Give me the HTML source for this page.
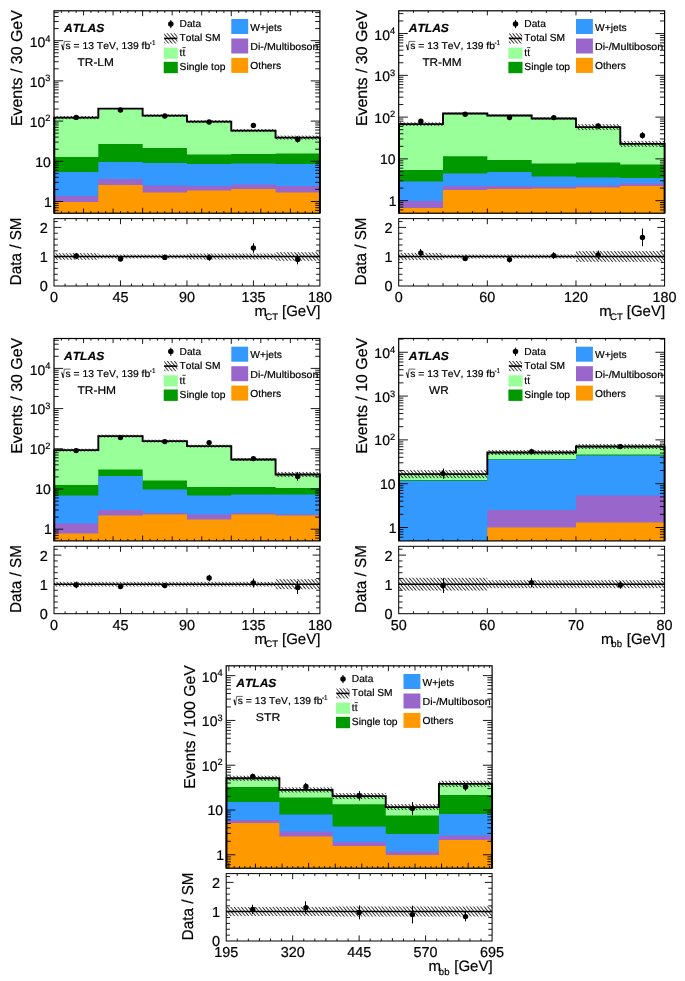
<!DOCTYPE html>
<html><head><meta charset="utf-8"><title>ATLAS control regions</title>
<style>html,body{margin:0;padding:0;background:#fff;overflow:hidden}svg{display:block;will-change:transform}text{font-kerning:none;text-rendering:geometricPrecision;stroke:#000;stroke-width:0.2px}</style></head>
<body>
<svg width="685" height="981" viewBox="0 0 685 981" font-family='"Liberation Sans", sans-serif'>
<defs><pattern id="h" width="2.7" height="2.7" patternUnits="userSpaceOnUse" patternTransform="rotate(50)"><line x1="0" y1="1.35" x2="2.7" y2="1.35" stroke="#000" stroke-width="0.75"/></pattern></defs>
<rect width="685" height="981" fill="#fff"/>
<g>
<path d="M54 117.6H98.32V108.6H142.63V115.6H186.95V121.6H231.27V130.6H275.58V137.6H319.9V213.2H54Z" fill="#99ff99"/>
<path d="M54 157H98.32V144H142.63V148H186.95V154.6H231.27V154H275.58V153.6H319.9V213.2H54Z" fill="#009900"/>
<path d="M54 172H98.32V162H142.63V163H186.95V164H231.27V163.6H275.58V164H319.9V213.2H54Z" fill="#3399ff"/>
<path d="M54 196H98.32V179H142.63V185.6H186.95V186H231.27V184.4H275.58V186H319.9V213.2H54Z" fill="#9966cc"/>
<path d="M54 202H98.32V185H142.63V192.6H186.95V190.6H231.27V189H275.58V192.6H319.9V213.2H54Z" fill="#ff9900"/>
<rect x="54" y="116" width="44.32" height="3.2" fill="url(#h)"/>
<rect x="98.32" y="108.1" width="44.32" height="1" fill="url(#h)"/>
<rect x="142.63" y="114.3" width="44.32" height="2.6" fill="url(#h)"/>
<rect x="186.95" y="120.1" width="44.32" height="3" fill="url(#h)"/>
<rect x="231.27" y="129.1" width="44.32" height="3" fill="url(#h)"/>
<rect x="275.58" y="135.6" width="44.32" height="4" fill="url(#h)"/>
<path d="M54.3 213.2V117.6H98.32V108.6H142.63V115.6H186.95V121.6H231.27V130.6H275.58V137.6H319.9V213.2" fill="none" stroke="#000" stroke-width="1.9" stroke-linejoin="miter"/>
<path d="M54 210.42L58.7 210.42M319.9 210.42L315.2 210.42M54 207.73L58.7 207.73M319.9 207.73L315.2 207.73M54 205.39L58.7 205.39M319.9 205.39L315.2 205.39M54 203.34L58.7 203.34M319.9 203.34L315.2 203.34M54 201.5L63.2 201.5M319.9 201.5L310.7 201.5M54 189.4L58.7 189.4M319.9 189.4L315.2 189.4M54 182.32L58.7 182.32M319.9 182.32L315.2 182.32M54 177.3L58.7 177.3M319.9 177.3L315.2 177.3M54 173.4L58.7 173.4M319.9 173.4L315.2 173.4M54 170.22L58.7 170.22M319.9 170.22L315.2 170.22M54 167.53L58.7 167.53M319.9 167.53L315.2 167.53M54 165.19L58.7 165.19M319.9 165.19L315.2 165.19M54 163.14L58.7 163.14M319.9 163.14L315.2 163.14M54 161.3L63.2 161.3M319.9 161.3L310.7 161.3M54 149.2L58.7 149.2M319.9 149.2L315.2 149.2M54 142.12L58.7 142.12M319.9 142.12L315.2 142.12M54 137.1L58.7 137.1M319.9 137.1L315.2 137.1M54 133.2L58.7 133.2M319.9 133.2L315.2 133.2M54 130.02L58.7 130.02M319.9 130.02L315.2 130.02M54 127.33L58.7 127.33M319.9 127.33L315.2 127.33M54 124.99L58.7 124.99M319.9 124.99L315.2 124.99M54 122.94L58.7 122.94M319.9 122.94L315.2 122.94M54 121.1L63.2 121.1M319.9 121.1L310.7 121.1M54 109L58.7 109M319.9 109L315.2 109M54 101.92L58.7 101.92M319.9 101.92L315.2 101.92M54 96.9L58.7 96.9M319.9 96.9L315.2 96.9M54 93L58.7 93M319.9 93L315.2 93M54 89.82L58.7 89.82M319.9 89.82L315.2 89.82M54 87.13L58.7 87.13M319.9 87.13L315.2 87.13M54 84.79L58.7 84.79M319.9 84.79L315.2 84.79M54 82.74L58.7 82.74M319.9 82.74L315.2 82.74M54 80.9L63.2 80.9M319.9 80.9L310.7 80.9M54 68.8L58.7 68.8M319.9 68.8L315.2 68.8M54 61.72L58.7 61.72M319.9 61.72L315.2 61.72M54 56.7L58.7 56.7M319.9 56.7L315.2 56.7M54 52.8L58.7 52.8M319.9 52.8L315.2 52.8M54 49.62L58.7 49.62M319.9 49.62L315.2 49.62M54 46.93L58.7 46.93M319.9 46.93L315.2 46.93M54 44.59L58.7 44.59M319.9 44.59L315.2 44.59M54 42.54L58.7 42.54M319.9 42.54L315.2 42.54M54 40.7L63.2 40.7M319.9 40.7L310.7 40.7M54 28.6L58.7 28.6M319.9 28.6L315.2 28.6M54 21.52L58.7 21.52M319.9 21.52L315.2 21.52M54 16.5L58.7 16.5M319.9 16.5L315.2 16.5M54 12.6L58.7 12.6M319.9 12.6L315.2 12.6M61.39 213.2L61.39 211.1M61.39 10.8L61.39 12.9M68.77 213.2L68.77 211.1M68.77 10.8L68.77 12.9M76.16 213.2L76.16 211.1M76.16 10.8L76.16 12.9M83.54 213.2L83.54 208.6M83.54 10.8L83.54 15.4M90.93 213.2L90.93 211.1M90.93 10.8L90.93 12.9M98.32 213.2L98.32 211.1M98.32 10.8L98.32 12.9M105.7 213.2L105.7 211.1M105.7 10.8L105.7 12.9M113.09 213.2L113.09 208.6M113.09 10.8L113.09 15.4M120.47 213.2L120.47 211.1M120.47 10.8L120.47 12.9M127.86 213.2L127.86 211.1M127.86 10.8L127.86 12.9M135.25 213.2L135.25 211.1M135.25 10.8L135.25 12.9M142.63 213.2L142.63 207.8M142.63 10.8L142.63 16.2M150.02 213.2L150.02 211.1M150.02 10.8L150.02 12.9M157.41 213.2L157.41 211.1M157.41 10.8L157.41 12.9M164.79 213.2L164.79 211.1M164.79 10.8L164.79 12.9M172.18 213.2L172.18 208.6M172.18 10.8L172.18 15.4M179.56 213.2L179.56 211.1M179.56 10.8L179.56 12.9M186.95 213.2L186.95 211.1M186.95 10.8L186.95 12.9M194.34 213.2L194.34 211.1M194.34 10.8L194.34 12.9M201.72 213.2L201.72 208.6M201.72 10.8L201.72 15.4M209.11 213.2L209.11 211.1M209.11 10.8L209.11 12.9M216.49 213.2L216.49 211.1M216.49 10.8L216.49 12.9M223.88 213.2L223.88 211.1M223.88 10.8L223.88 12.9M231.27 213.2L231.27 207.8M231.27 10.8L231.27 16.2M238.65 213.2L238.65 211.1M238.65 10.8L238.65 12.9M246.04 213.2L246.04 211.1M246.04 10.8L246.04 12.9M253.42 213.2L253.42 211.1M253.42 10.8L253.42 12.9M260.81 213.2L260.81 208.6M260.81 10.8L260.81 15.4M268.2 213.2L268.2 211.1M268.2 10.8L268.2 12.9M275.58 213.2L275.58 211.1M275.58 10.8L275.58 12.9M282.97 213.2L282.97 211.1M282.97 10.8L282.97 12.9M290.36 213.2L290.36 208.6M290.36 10.8L290.36 15.4M297.74 213.2L297.74 211.1M297.74 10.8L297.74 12.9M305.13 213.2L305.13 211.1M305.13 10.8L305.13 12.9M312.51 213.2L312.51 211.1M312.51 10.8L312.51 12.9M65.08 286L65.08 283.6M65.08 218.6L65.08 221M76.16 286L76.16 283.6M76.16 218.6L76.16 221M87.24 286L87.24 283.1M87.24 218.6L87.24 221.5M98.32 286L98.32 283.6M98.32 218.6L98.32 221M109.4 286L109.4 283.6M109.4 218.6L109.4 221M120.47 286L120.47 280.4M120.47 218.6L120.47 224.2M131.55 286L131.55 283.6M131.55 218.6L131.55 221M142.63 286L142.63 283.6M142.63 218.6L142.63 221M153.71 286L153.71 283.1M153.71 218.6L153.71 221.5M164.79 286L164.79 283.6M164.79 218.6L164.79 221M175.87 286L175.87 283.6M175.87 218.6L175.87 221M186.95 286L186.95 280.4M186.95 218.6L186.95 224.2M198.03 286L198.03 283.6M198.03 218.6L198.03 221M209.11 286L209.11 283.6M209.11 218.6L209.11 221M220.19 286L220.19 283.1M220.19 218.6L220.19 221.5M231.27 286L231.27 283.6M231.27 218.6L231.27 221M242.35 286L242.35 283.6M242.35 218.6L242.35 221M253.42 286L253.42 280.4M253.42 218.6L253.42 224.2M264.5 286L264.5 283.6M264.5 218.6L264.5 221M275.58 286L275.58 283.6M275.58 218.6L275.58 221M286.66 286L286.66 283.1M286.66 218.6L286.66 221.5M297.74 286L297.74 283.6M297.74 218.6L297.74 221M308.82 286L308.82 283.6M308.82 218.6L308.82 221M54 280.14L57.8 280.14M319.9 280.14L316.1 280.14M54 274.28L57.8 274.28M319.9 274.28L316.1 274.28M54 268.42L57.8 268.42M319.9 268.42L316.1 268.42M54 262.56L57.8 262.56M319.9 262.56L316.1 262.56M54 256.7L61.3 256.7M319.9 256.7L312.6 256.7M54 250.84L57.8 250.84M319.9 250.84L316.1 250.84M54 244.98L57.8 244.98M319.9 244.98L316.1 244.98M54 239.12L57.8 239.12M319.9 239.12L316.1 239.12M54 233.26L57.8 233.26M319.9 233.26L316.1 233.26M54 227.4L61.3 227.4M319.9 227.4L312.6 227.4M54 221.54L57.8 221.54M319.9 221.54L316.1 221.54" stroke="#000" stroke-width="0.9" fill="none"/>
<rect x="54" y="253.2" width="44.32" height="6.6" fill="url(#h)"/>
<rect x="98.32" y="254.5" width="44.32" height="4" fill="url(#h)"/>
<rect x="142.63" y="254.5" width="44.32" height="4" fill="url(#h)"/>
<rect x="186.95" y="253.5" width="44.32" height="6" fill="url(#h)"/>
<rect x="231.27" y="253.5" width="44.32" height="6" fill="url(#h)"/>
<rect x="275.58" y="252.2" width="44.32" height="8.6" fill="url(#h)"/>
<line x1="54" y1="256.5" x2="319.9" y2="256.5" stroke="#000" stroke-width="1.4"/>
<rect x="54" y="10.8" width="265.9" height="202.4" fill="none" stroke="#000" stroke-width="1.2"/>
<rect x="54" y="218.6" width="265.9" height="67.4" fill="none" stroke="#000" stroke-width="1.0"/>
<line x1="76.5" y1="115.67" x2="76.5" y2="119.13" stroke="#000" stroke-width="1"/>
<circle cx="76.16" cy="117.4" r="2.7"/>
<line x1="76.5" y1="253.03" x2="76.5" y2="258.97" stroke="#000" stroke-width="1"/>
<circle cx="76.16" cy="256" r="2.7"/>
<line x1="120.5" y1="108.6" x2="120.5" y2="111.4" stroke="#000" stroke-width="1"/>
<circle cx="120.47" cy="110" r="2.7"/>
<line x1="120.5" y1="256.84" x2="120.5" y2="261.16" stroke="#000" stroke-width="1"/>
<circle cx="120.47" cy="259" r="2.7"/>
<line x1="164.5" y1="114.34" x2="164.5" y2="117.66" stroke="#000" stroke-width="1"/>
<circle cx="164.79" cy="116" r="2.7"/>
<line x1="164.5" y1="254.68" x2="164.5" y2="260.12" stroke="#000" stroke-width="1"/>
<circle cx="164.79" cy="257.4" r="2.7"/>
<line x1="209.5" y1="120.03" x2="209.5" y2="123.97" stroke="#000" stroke-width="1"/>
<circle cx="209.11" cy="122" r="2.7"/>
<line x1="209.5" y1="254.39" x2="209.5" y2="260.81" stroke="#000" stroke-width="1"/>
<circle cx="209.11" cy="257.6" r="2.7"/>
<line x1="253.5" y1="123.23" x2="253.5" y2="127.57" stroke="#000" stroke-width="1"/>
<circle cx="253.42" cy="125.4" r="2.7"/>
<line x1="253.5" y1="243.27" x2="253.5" y2="252.73" stroke="#000" stroke-width="1"/>
<circle cx="253.42" cy="248" r="2.7"/>
<line x1="297.5" y1="136.16" x2="297.5" y2="142.64" stroke="#000" stroke-width="1"/>
<circle cx="297.74" cy="139.4" r="2.7"/>
<line x1="297.5" y1="254.46" x2="297.5" y2="264.34" stroke="#000" stroke-width="1"/>
<circle cx="297.74" cy="259.4" r="2.7"/>
<text x="51.9" y="206.7" font-size="14" text-anchor="end">1</text>
<text x="50.8" y="166.5" font-size="14" text-anchor="end">10</text>
<text x="50.4" y="126.5" font-size="14" text-anchor="end">10<tspan font-size="9.3" dy="-5.3">2</tspan></text>
<text x="50.4" y="86.7" font-size="14" text-anchor="end">10<tspan font-size="9.3" dy="-5.3">3</tspan></text>
<text x="50.4" y="46.8" font-size="14" text-anchor="end">10<tspan font-size="9.3" dy="-5.3">4</tspan></text>
<text x="47.9" y="291.4" font-size="14.5" text-anchor="end">0</text>
<text x="47.9" y="262.1" font-size="14.5" text-anchor="end">1</text>
<text x="47.9" y="232.8" font-size="14.5" text-anchor="end">2</text>
<text x="54" y="301.9" font-size="14.4" text-anchor="middle">0</text>
<text x="120.47" y="301.9" font-size="14.4" text-anchor="middle">45</text>
<text x="186.95" y="301.9" font-size="14.4" text-anchor="middle">90</text>
<text x="253.42" y="301.9" font-size="14.4" text-anchor="middle">135</text>
<text x="319.9" y="301.9" font-size="14.4" text-anchor="middle">180</text>
<text x="254.5" y="316" font-size="15">m</text>
<text x="265.3" y="319.7" font-size="9.6">CT</text>
<text x="320.4" y="316" font-size="15" text-anchor="end">[GeV]</text>
<text transform="translate(22.3 10.2) rotate(-90)" font-size="15.8" text-anchor="end" textLength="115.9" lengthAdjust="spacingAndGlyphs">Events / 30 GeV</text>
<text transform="translate(20.8 217.4) rotate(-90)" font-size="15.8" text-anchor="end" textLength="68" lengthAdjust="spacingAndGlyphs">Data / SM</text>
<text x="64" y="32.1" font-size="11.8" font-weight="bold" font-style="italic" textLength="40.2" lengthAdjust="spacingAndGlyphs">ATLAS</text>
<path d="M61.8 44.6L63.2 50" fill="none" stroke="#000" stroke-width="1.1"/>
<path d="M63.3 50.3L64.3 41.4H70.6" fill="none" stroke="#000" stroke-width="0.6"/>
<text x="65.6" y="49.4" font-size="9.9" textLength="84.6" lengthAdjust="spacingAndGlyphs">s = 13 TeV, 139 fb</text>
<text x="149.8" y="45" font-size="7" textLength="5.6" lengthAdjust="spacingAndGlyphs">-1</text>
<text x="77.6" y="66" font-size="11.2" textLength="36.2" lengthAdjust="spacingAndGlyphs">TR-LM</text>
<line x1="170.8" y1="20" x2="170.8" y2="28.2" stroke="#000" stroke-width="1"/>
<circle cx="170.8" cy="23.9" r="2.75"/>
<text x="179.6" y="26.9" font-size="10.2" textLength="21.5" lengthAdjust="spacingAndGlyphs">Data</text>
<rect x="164.2" y="33.3" width="13.2" height="10.2" fill="url(#h)"/>
<line x1="164.2" y1="38.4" x2="177.4" y2="38.4" stroke="#000" stroke-width="1.6"/>
<text x="179.6" y="41.3" font-size="10.2" textLength="40.8" lengthAdjust="spacingAndGlyphs">Total SM</text>
<rect x="163.7" y="47.6" width="14.1" height="11.2" fill="#99ff99"/>
<text x="179.6" y="56.3" font-size="10.2">tt</text>
<line x1="182.4" y1="47.6" x2="185.7" y2="47.6" stroke="#000" stroke-width="0.75"/>
<rect x="163.7" y="61.8" width="14.1" height="11.4" fill="#009900"/>
<text x="179.6" y="70.3" font-size="10.2" textLength="45.8" lengthAdjust="spacingAndGlyphs">Single top</text>
<rect x="231.3" y="19" width="16.9" height="15" fill="#3399ff"/>
<text x="250.3" y="30.6" font-size="10.2" textLength="31.6" lengthAdjust="spacingAndGlyphs">W+jets</text>
<rect x="231.3" y="38.5" width="16.9" height="15" fill="#9966cc"/>
<text x="250.3" y="50" font-size="10.2" textLength="68.2" lengthAdjust="spacingAndGlyphs">Di-/Multiboson</text>
<rect x="231.3" y="57.9" width="16.9" height="15" fill="#ff9900"/>
<text x="250.3" y="69.2" font-size="10.2" textLength="30.8" lengthAdjust="spacingAndGlyphs">Others</text>
</g>
<g>
<path d="M398.7 124.1H443.02V113.5H487.33V115.5H531.65V118.5H575.97V127.1H620.28V143.9H664.6V213.2H398.7Z" fill="#99ff99"/>
<path d="M398.7 170H443.02V156.2H487.33V160H531.65V163.4H575.97V162.6H620.28V164.4H664.6V213.2H398.7Z" fill="#009900"/>
<path d="M398.7 181.5H443.02V173.6H487.33V172H531.65V176.4H575.97V177.6H620.28V178H664.6V213.2H398.7Z" fill="#3399ff"/>
<path d="M398.7 201H443.02V186H487.33V186H531.65V186.4H575.97V185.4H620.28V183.6H664.6V213.2H398.7Z" fill="#9966cc"/>
<path d="M398.7 208H443.02V190H487.33V189H531.65V188.4H575.97V187.4H620.28V186H664.6V213.2H398.7Z" fill="#ff9900"/>
<rect x="398.7" y="122.3" width="44.32" height="3.6" fill="url(#h)"/>
<rect x="443.02" y="112.6" width="44.32" height="1.8" fill="url(#h)"/>
<rect x="487.33" y="114.6" width="44.32" height="1.8" fill="url(#h)"/>
<rect x="531.65" y="117.4" width="44.32" height="2.2" fill="url(#h)"/>
<rect x="575.97" y="124.1" width="44.32" height="6" fill="url(#h)"/>
<rect x="620.28" y="140.9" width="44.32" height="6" fill="url(#h)"/>
<path d="M399 213.2V124.1H443.02V113.5H487.33V115.5H531.65V118.5H575.97V127.1H620.28V143.9H664.6V213.2" fill="none" stroke="#000" stroke-width="1.9" stroke-linejoin="miter"/>
<path d="M398.7 209.94L403.4 209.94M664.6 209.94L659.9 209.94M398.7 207.14L403.4 207.14M664.6 207.14L659.9 207.14M398.7 204.72L403.4 204.72M664.6 204.72L659.9 204.72M398.7 202.58L403.4 202.58M664.6 202.58L659.9 202.58M398.7 200.67L407.9 200.67M664.6 200.67L655.4 200.67M398.7 188.1L403.4 188.1M664.6 188.1L659.9 188.1M398.7 180.74L403.4 180.74M664.6 180.74L659.9 180.74M398.7 175.52L403.4 175.52M664.6 175.52L659.9 175.52M398.7 171.47L403.4 171.47M664.6 171.47L659.9 171.47M398.7 168.16L403.4 168.16M664.6 168.16L659.9 168.16M398.7 165.36L403.4 165.36M664.6 165.36L659.9 165.36M398.7 162.94L403.4 162.94M664.6 162.94L659.9 162.94M398.7 160.8L403.4 160.8M664.6 160.8L659.9 160.8M398.7 158.89L407.9 158.89M664.6 158.89L655.4 158.89M398.7 146.32L403.4 146.32M664.6 146.32L659.9 146.32M398.7 138.96L403.4 138.96M664.6 138.96L659.9 138.96M398.7 133.74L403.4 133.74M664.6 133.74L659.9 133.74M398.7 129.69L403.4 129.69M664.6 129.69L659.9 129.69M398.7 126.38L403.4 126.38M664.6 126.38L659.9 126.38M398.7 123.58L403.4 123.58M664.6 123.58L659.9 123.58M398.7 121.16L403.4 121.16M664.6 121.16L659.9 121.16M398.7 119.02L403.4 119.02M664.6 119.02L659.9 119.02M398.7 117.11L407.9 117.11M664.6 117.11L655.4 117.11M398.7 104.54L403.4 104.54M664.6 104.54L659.9 104.54M398.7 97.18L403.4 97.18M664.6 97.18L659.9 97.18M398.7 91.96L403.4 91.96M664.6 91.96L659.9 91.96M398.7 87.91L403.4 87.91M664.6 87.91L659.9 87.91M398.7 84.6L403.4 84.6M664.6 84.6L659.9 84.6M398.7 81.8L403.4 81.8M664.6 81.8L659.9 81.8M398.7 79.38L403.4 79.38M664.6 79.38L659.9 79.38M398.7 77.24L403.4 77.24M664.6 77.24L659.9 77.24M398.7 75.33L407.9 75.33M664.6 75.33L655.4 75.33M398.7 62.76L403.4 62.76M664.6 62.76L659.9 62.76M398.7 55.4L403.4 55.4M664.6 55.4L659.9 55.4M398.7 50.18L403.4 50.18M664.6 50.18L659.9 50.18M398.7 46.13L403.4 46.13M664.6 46.13L659.9 46.13M398.7 42.82L403.4 42.82M664.6 42.82L659.9 42.82M398.7 40.02L403.4 40.02M664.6 40.02L659.9 40.02M398.7 37.6L403.4 37.6M664.6 37.6L659.9 37.6M398.7 35.46L403.4 35.46M664.6 35.46L659.9 35.46M398.7 33.55L407.9 33.55M664.6 33.55L655.4 33.55M398.7 20.98L403.4 20.98M664.6 20.98L659.9 20.98M398.7 13.62L403.4 13.62M664.6 13.62L659.9 13.62M413.47 213.2L413.47 211.1M413.47 10.8L413.47 12.9M428.24 213.2L428.24 211.1M428.24 10.8L428.24 12.9M443.02 213.2L443.02 211.1M443.02 10.8L443.02 12.9M457.79 213.2L457.79 211.1M457.79 10.8L457.79 12.9M472.56 213.2L472.56 211.1M472.56 10.8L472.56 12.9M487.33 213.2L487.33 208.6M487.33 10.8L487.33 15.4M502.11 213.2L502.11 211.1M502.11 10.8L502.11 12.9M516.88 213.2L516.88 211.1M516.88 10.8L516.88 12.9M531.65 213.2L531.65 211.1M531.65 10.8L531.65 12.9M546.42 213.2L546.42 211.1M546.42 10.8L546.42 12.9M561.19 213.2L561.19 211.1M561.19 10.8L561.19 12.9M575.97 213.2L575.97 208.6M575.97 10.8L575.97 15.4M590.74 213.2L590.74 211.1M590.74 10.8L590.74 12.9M605.51 213.2L605.51 211.1M605.51 10.8L605.51 12.9M620.28 213.2L620.28 211.1M620.28 10.8L620.28 12.9M635.06 213.2L635.06 211.1M635.06 10.8L635.06 12.9M649.83 213.2L649.83 211.1M649.83 10.8L649.83 12.9M413.47 286L413.47 283.6M413.47 218.6L413.47 221M428.24 286L428.24 283.6M428.24 218.6L428.24 221M443.02 286L443.02 283.1M443.02 218.6L443.02 221.5M457.79 286L457.79 283.6M457.79 218.6L457.79 221M472.56 286L472.56 283.6M472.56 218.6L472.56 221M487.33 286L487.33 280.4M487.33 218.6L487.33 224.2M502.11 286L502.11 283.6M502.11 218.6L502.11 221M516.88 286L516.88 283.6M516.88 218.6L516.88 221M531.65 286L531.65 283.1M531.65 218.6L531.65 221.5M546.42 286L546.42 283.6M546.42 218.6L546.42 221M561.19 286L561.19 283.6M561.19 218.6L561.19 221M575.97 286L575.97 280.4M575.97 218.6L575.97 224.2M590.74 286L590.74 283.6M590.74 218.6L590.74 221M605.51 286L605.51 283.6M605.51 218.6L605.51 221M620.28 286L620.28 283.1M620.28 218.6L620.28 221.5M635.06 286L635.06 283.6M635.06 218.6L635.06 221M649.83 286L649.83 283.6M649.83 218.6L649.83 221M398.7 280.14L402.5 280.14M664.6 280.14L660.8 280.14M398.7 274.28L402.5 274.28M664.6 274.28L660.8 274.28M398.7 268.42L402.5 268.42M664.6 268.42L660.8 268.42M398.7 262.56L402.5 262.56M664.6 262.56L660.8 262.56M398.7 256.7L406 256.7M664.6 256.7L657.3 256.7M398.7 250.84L402.5 250.84M664.6 250.84L660.8 250.84M398.7 244.98L402.5 244.98M664.6 244.98L660.8 244.98M398.7 239.12L402.5 239.12M664.6 239.12L660.8 239.12M398.7 233.26L402.5 233.26M664.6 233.26L660.8 233.26M398.7 227.4L406 227.4M664.6 227.4L657.3 227.4M398.7 221.54L402.5 221.54M664.6 221.54L660.8 221.54" stroke="#000" stroke-width="0.9" fill="none"/>
<rect x="398.7" y="252.9" width="44.32" height="7.2" fill="url(#h)"/>
<rect x="443.02" y="254.5" width="44.32" height="4" fill="url(#h)"/>
<rect x="487.33" y="254.5" width="44.32" height="4" fill="url(#h)"/>
<rect x="531.65" y="254.5" width="44.32" height="4" fill="url(#h)"/>
<rect x="575.97" y="251.1" width="44.32" height="10.8" fill="url(#h)"/>
<rect x="620.28" y="251.1" width="44.32" height="10.8" fill="url(#h)"/>
<line x1="398.7" y1="256.5" x2="664.6" y2="256.5" stroke="#000" stroke-width="1.4"/>
<rect x="398.7" y="10.8" width="265.9" height="202.4" fill="none" stroke="#000" stroke-width="1.2"/>
<rect x="398.7" y="218.6" width="265.9" height="67.4" fill="none" stroke="#000" stroke-width="1.0"/>
<line x1="420.5" y1="118.97" x2="420.5" y2="123.43" stroke="#000" stroke-width="1"/>
<circle cx="420.86" cy="121.2" r="2.7"/>
<line x1="420.5" y1="248.94" x2="420.5" y2="257.06" stroke="#000" stroke-width="1"/>
<circle cx="420.86" cy="253" r="2.7"/>
<line x1="465.5" y1="112.45" x2="465.5" y2="116.15" stroke="#000" stroke-width="1"/>
<circle cx="465.17" cy="114.3" r="2.7"/>
<line x1="465.5" y1="255.59" x2="465.5" y2="261.21" stroke="#000" stroke-width="1"/>
<circle cx="465.17" cy="258.4" r="2.7"/>
<line x1="509.5" y1="115.58" x2="509.5" y2="119.62" stroke="#000" stroke-width="1"/>
<circle cx="509.49" cy="117.6" r="2.7"/>
<line x1="509.5" y1="256.66" x2="509.5" y2="262.54" stroke="#000" stroke-width="1"/>
<circle cx="509.49" cy="259.6" r="2.7"/>
<line x1="553.5" y1="115.58" x2="553.5" y2="119.62" stroke="#000" stroke-width="1"/>
<circle cx="553.81" cy="117.6" r="2.7"/>
<line x1="553.5" y1="252.21" x2="553.5" y2="258.99" stroke="#000" stroke-width="1"/>
<circle cx="553.81" cy="255.6" r="2.7"/>
<line x1="598.5" y1="123.45" x2="598.5" y2="128.55" stroke="#000" stroke-width="1"/>
<circle cx="598.12" cy="126" r="2.7"/>
<line x1="598.5" y1="250.64" x2="598.5" y2="259.36" stroke="#000" stroke-width="1"/>
<circle cx="598.12" cy="255" r="2.7"/>
<line x1="642.5" y1="132.1" x2="642.5" y2="138.7" stroke="#000" stroke-width="1"/>
<circle cx="642.44" cy="135.4" r="2.7"/>
<line x1="642.5" y1="228.55" x2="642.5" y2="246.25" stroke="#000" stroke-width="1"/>
<circle cx="642.44" cy="237.4" r="2.7"/>
<text x="396.6" y="205.87" font-size="14" text-anchor="end">1</text>
<text x="395.5" y="164.09" font-size="14" text-anchor="end">10</text>
<text x="395.1" y="122.51" font-size="14" text-anchor="end">10<tspan font-size="9.3" dy="-5.3">2</tspan></text>
<text x="395.1" y="81.13" font-size="14" text-anchor="end">10<tspan font-size="9.3" dy="-5.3">3</tspan></text>
<text x="395.1" y="39.65" font-size="14" text-anchor="end">10<tspan font-size="9.3" dy="-5.3">4</tspan></text>
<text x="392.6" y="291.4" font-size="14.5" text-anchor="end">0</text>
<text x="392.6" y="262.1" font-size="14.5" text-anchor="end">1</text>
<text x="392.6" y="232.8" font-size="14.5" text-anchor="end">2</text>
<text x="398.7" y="301.9" font-size="14.4" text-anchor="middle">0</text>
<text x="487.33" y="301.9" font-size="14.4" text-anchor="middle">60</text>
<text x="575.97" y="301.9" font-size="14.4" text-anchor="middle">120</text>
<text x="664.6" y="301.9" font-size="14.4" text-anchor="middle">180</text>
<text x="599.2" y="316" font-size="15">m</text>
<text x="610" y="319.7" font-size="9.6">CT</text>
<text x="665.1" y="316" font-size="15" text-anchor="end">[GeV]</text>
<text transform="translate(367 10.2) rotate(-90)" font-size="15.8" text-anchor="end" textLength="115.9" lengthAdjust="spacingAndGlyphs">Events / 30 GeV</text>
<text transform="translate(365.5 217.4) rotate(-90)" font-size="15.8" text-anchor="end" textLength="68" lengthAdjust="spacingAndGlyphs">Data / SM</text>
<text x="408.7" y="32.1" font-size="11.8" font-weight="bold" font-style="italic" textLength="40.2" lengthAdjust="spacingAndGlyphs">ATLAS</text>
<path d="M406.5 44.6L407.9 50" fill="none" stroke="#000" stroke-width="1.1"/>
<path d="M408 50.3L409 41.4H415.3" fill="none" stroke="#000" stroke-width="0.6"/>
<text x="410.3" y="49.4" font-size="9.9" textLength="84.6" lengthAdjust="spacingAndGlyphs">s = 13 TeV, 139 fb</text>
<text x="494.5" y="45" font-size="7" textLength="5.6" lengthAdjust="spacingAndGlyphs">-1</text>
<text x="422.4" y="66" font-size="11.2" textLength="39.3" lengthAdjust="spacingAndGlyphs">TR-MM</text>
<line x1="515.5" y1="20" x2="515.5" y2="28.2" stroke="#000" stroke-width="1"/>
<circle cx="515.5" cy="23.9" r="2.75"/>
<text x="524.3" y="26.9" font-size="10.2" textLength="21.5" lengthAdjust="spacingAndGlyphs">Data</text>
<rect x="508.9" y="33.3" width="13.2" height="10.2" fill="url(#h)"/>
<line x1="508.9" y1="38.4" x2="522.1" y2="38.4" stroke="#000" stroke-width="1.6"/>
<text x="524.3" y="41.3" font-size="10.2" textLength="40.8" lengthAdjust="spacingAndGlyphs">Total SM</text>
<rect x="508.4" y="47.6" width="14.1" height="11.2" fill="#99ff99"/>
<text x="524.3" y="56.3" font-size="10.2">tt</text>
<line x1="527.1" y1="47.6" x2="530.4" y2="47.6" stroke="#000" stroke-width="0.75"/>
<rect x="508.4" y="61.8" width="14.1" height="11.4" fill="#009900"/>
<text x="524.3" y="70.3" font-size="10.2" textLength="45.8" lengthAdjust="spacingAndGlyphs">Single top</text>
<rect x="576" y="19" width="16.9" height="15" fill="#3399ff"/>
<text x="595" y="30.6" font-size="10.2" textLength="31.6" lengthAdjust="spacingAndGlyphs">W+jets</text>
<rect x="576" y="38.5" width="16.9" height="15" fill="#9966cc"/>
<text x="595" y="50" font-size="10.2" textLength="68.2" lengthAdjust="spacingAndGlyphs">Di-/Multiboson</text>
<rect x="576" y="57.9" width="16.9" height="15" fill="#ff9900"/>
<text x="595" y="69.2" font-size="10.2" textLength="30.8" lengthAdjust="spacingAndGlyphs">Others</text>
</g>
<g>
<path d="M54 450.1H98.32V436.1H142.63V441.1H186.95V446.1H231.27V459.5H275.58V474.5H319.9V540.9H54Z" fill="#99ff99"/>
<path d="M54 485H98.32V469.6H142.63V480.4H186.95V487H231.27V487H275.58V488H319.9V540.9H54Z" fill="#009900"/>
<path d="M54 495.4H98.32V476H142.63V489.6H186.95V495.4H231.27V494.4H275.58V494.4H319.9V540.9H54Z" fill="#3399ff"/>
<path d="M54 523.6H98.32V510H142.63V513H186.95V514.4H231.27V513H275.58V514.4H319.9V540.9H54Z" fill="#9966cc"/>
<path d="M54 533.6H98.32V515.6H142.63V514.6H186.95V519.6H231.27V514.4H275.58V515.6H319.9V540.9H54Z" fill="#ff9900"/>
<rect x="54" y="448.7" width="44.32" height="2.8" fill="url(#h)"/>
<rect x="98.32" y="434.7" width="44.32" height="2.8" fill="url(#h)"/>
<rect x="142.63" y="439.7" width="44.32" height="2.8" fill="url(#h)"/>
<rect x="186.95" y="444.7" width="44.32" height="2.8" fill="url(#h)"/>
<rect x="231.27" y="458.1" width="44.32" height="2.8" fill="url(#h)"/>
<rect x="275.58" y="471.9" width="44.32" height="5.2" fill="url(#h)"/>
<path d="M54.3 540.9V450.1H98.32V436.1H142.63V441.1H186.95V446.1H231.27V459.5H275.58V474.5H319.9V540.9" fill="none" stroke="#000" stroke-width="1.9" stroke-linejoin="miter"/>
<path d="M54 538.12L58.7 538.12M319.9 538.12L315.2 538.12M54 535.43L58.7 535.43M319.9 535.43L315.2 535.43M54 533.09L58.7 533.09M319.9 533.09L315.2 533.09M54 531.04L58.7 531.04M319.9 531.04L315.2 531.04M54 529.2L63.2 529.2M319.9 529.2L310.7 529.2M54 517.1L58.7 517.1M319.9 517.1L315.2 517.1M54 510.02L58.7 510.02M319.9 510.02L315.2 510.02M54 505L58.7 505M319.9 505L315.2 505M54 501.1L58.7 501.1M319.9 501.1L315.2 501.1M54 497.92L58.7 497.92M319.9 497.92L315.2 497.92M54 495.23L58.7 495.23M319.9 495.23L315.2 495.23M54 492.89L58.7 492.89M319.9 492.89L315.2 492.89M54 490.84L58.7 490.84M319.9 490.84L315.2 490.84M54 489L63.2 489M319.9 489L310.7 489M54 476.9L58.7 476.9M319.9 476.9L315.2 476.9M54 469.82L58.7 469.82M319.9 469.82L315.2 469.82M54 464.8L58.7 464.8M319.9 464.8L315.2 464.8M54 460.9L58.7 460.9M319.9 460.9L315.2 460.9M54 457.72L58.7 457.72M319.9 457.72L315.2 457.72M54 455.03L58.7 455.03M319.9 455.03L315.2 455.03M54 452.69L58.7 452.69M319.9 452.69L315.2 452.69M54 450.64L58.7 450.64M319.9 450.64L315.2 450.64M54 448.8L63.2 448.8M319.9 448.8L310.7 448.8M54 436.7L58.7 436.7M319.9 436.7L315.2 436.7M54 429.62L58.7 429.62M319.9 429.62L315.2 429.62M54 424.6L58.7 424.6M319.9 424.6L315.2 424.6M54 420.7L58.7 420.7M319.9 420.7L315.2 420.7M54 417.52L58.7 417.52M319.9 417.52L315.2 417.52M54 414.83L58.7 414.83M319.9 414.83L315.2 414.83M54 412.49L58.7 412.49M319.9 412.49L315.2 412.49M54 410.44L58.7 410.44M319.9 410.44L315.2 410.44M54 408.6L63.2 408.6M319.9 408.6L310.7 408.6M54 396.5L58.7 396.5M319.9 396.5L315.2 396.5M54 389.42L58.7 389.42M319.9 389.42L315.2 389.42M54 384.4L58.7 384.4M319.9 384.4L315.2 384.4M54 380.5L58.7 380.5M319.9 380.5L315.2 380.5M54 377.32L58.7 377.32M319.9 377.32L315.2 377.32M54 374.63L58.7 374.63M319.9 374.63L315.2 374.63M54 372.29L58.7 372.29M319.9 372.29L315.2 372.29M54 370.24L58.7 370.24M319.9 370.24L315.2 370.24M54 368.4L63.2 368.4M319.9 368.4L310.7 368.4M54 356.3L58.7 356.3M319.9 356.3L315.2 356.3M54 349.22L58.7 349.22M319.9 349.22L315.2 349.22M54 344.2L58.7 344.2M319.9 344.2L315.2 344.2M54 340.3L58.7 340.3M319.9 340.3L315.2 340.3M61.39 540.9L61.39 538.8M61.39 338.5L61.39 340.6M68.77 540.9L68.77 538.8M68.77 338.5L68.77 340.6M76.16 540.9L76.16 538.8M76.16 338.5L76.16 340.6M83.54 540.9L83.54 536.3M83.54 338.5L83.54 343.1M90.93 540.9L90.93 538.8M90.93 338.5L90.93 340.6M98.32 540.9L98.32 538.8M98.32 338.5L98.32 340.6M105.7 540.9L105.7 538.8M105.7 338.5L105.7 340.6M113.09 540.9L113.09 536.3M113.09 338.5L113.09 343.1M120.47 540.9L120.47 538.8M120.47 338.5L120.47 340.6M127.86 540.9L127.86 538.8M127.86 338.5L127.86 340.6M135.25 540.9L135.25 538.8M135.25 338.5L135.25 340.6M142.63 540.9L142.63 535.5M142.63 338.5L142.63 343.9M150.02 540.9L150.02 538.8M150.02 338.5L150.02 340.6M157.41 540.9L157.41 538.8M157.41 338.5L157.41 340.6M164.79 540.9L164.79 538.8M164.79 338.5L164.79 340.6M172.18 540.9L172.18 536.3M172.18 338.5L172.18 343.1M179.56 540.9L179.56 538.8M179.56 338.5L179.56 340.6M186.95 540.9L186.95 538.8M186.95 338.5L186.95 340.6M194.34 540.9L194.34 538.8M194.34 338.5L194.34 340.6M201.72 540.9L201.72 536.3M201.72 338.5L201.72 343.1M209.11 540.9L209.11 538.8M209.11 338.5L209.11 340.6M216.49 540.9L216.49 538.8M216.49 338.5L216.49 340.6M223.88 540.9L223.88 538.8M223.88 338.5L223.88 340.6M231.27 540.9L231.27 535.5M231.27 338.5L231.27 343.9M238.65 540.9L238.65 538.8M238.65 338.5L238.65 340.6M246.04 540.9L246.04 538.8M246.04 338.5L246.04 340.6M253.42 540.9L253.42 538.8M253.42 338.5L253.42 340.6M260.81 540.9L260.81 536.3M260.81 338.5L260.81 343.1M268.2 540.9L268.2 538.8M268.2 338.5L268.2 340.6M275.58 540.9L275.58 538.8M275.58 338.5L275.58 340.6M282.97 540.9L282.97 538.8M282.97 338.5L282.97 340.6M290.36 540.9L290.36 536.3M290.36 338.5L290.36 343.1M297.74 540.9L297.74 538.8M297.74 338.5L297.74 340.6M305.13 540.9L305.13 538.8M305.13 338.5L305.13 340.6M312.51 540.9L312.51 538.8M312.51 338.5L312.51 340.6M65.08 613.7L65.08 611.3M65.08 546.3L65.08 548.7M76.16 613.7L76.16 611.3M76.16 546.3L76.16 548.7M87.24 613.7L87.24 610.8M87.24 546.3L87.24 549.2M98.32 613.7L98.32 611.3M98.32 546.3L98.32 548.7M109.4 613.7L109.4 611.3M109.4 546.3L109.4 548.7M120.47 613.7L120.47 608.1M120.47 546.3L120.47 551.9M131.55 613.7L131.55 611.3M131.55 546.3L131.55 548.7M142.63 613.7L142.63 611.3M142.63 546.3L142.63 548.7M153.71 613.7L153.71 610.8M153.71 546.3L153.71 549.2M164.79 613.7L164.79 611.3M164.79 546.3L164.79 548.7M175.87 613.7L175.87 611.3M175.87 546.3L175.87 548.7M186.95 613.7L186.95 608.1M186.95 546.3L186.95 551.9M198.03 613.7L198.03 611.3M198.03 546.3L198.03 548.7M209.11 613.7L209.11 611.3M209.11 546.3L209.11 548.7M220.19 613.7L220.19 610.8M220.19 546.3L220.19 549.2M231.27 613.7L231.27 611.3M231.27 546.3L231.27 548.7M242.35 613.7L242.35 611.3M242.35 546.3L242.35 548.7M253.42 613.7L253.42 608.1M253.42 546.3L253.42 551.9M264.5 613.7L264.5 611.3M264.5 546.3L264.5 548.7M275.58 613.7L275.58 611.3M275.58 546.3L275.58 548.7M286.66 613.7L286.66 610.8M286.66 546.3L286.66 549.2M297.74 613.7L297.74 611.3M297.74 546.3L297.74 548.7M308.82 613.7L308.82 611.3M308.82 546.3L308.82 548.7M54 607.84L57.8 607.84M319.9 607.84L316.1 607.84M54 601.98L57.8 601.98M319.9 601.98L316.1 601.98M54 596.12L57.8 596.12M319.9 596.12L316.1 596.12M54 590.26L57.8 590.26M319.9 590.26L316.1 590.26M54 584.4L61.3 584.4M319.9 584.4L312.6 584.4M54 578.54L57.8 578.54M319.9 578.54L316.1 578.54M54 572.68L57.8 572.68M319.9 572.68L316.1 572.68M54 566.82L57.8 566.82M319.9 566.82L316.1 566.82M54 560.96L57.8 560.96M319.9 560.96L316.1 560.96M54 555.1L61.3 555.1M319.9 555.1L312.6 555.1M54 549.24L57.8 549.24M319.9 549.24L316.1 549.24" stroke="#000" stroke-width="0.9" fill="none"/>
<rect x="54" y="581.8" width="44.32" height="4.8" fill="url(#h)"/>
<rect x="98.32" y="581.8" width="44.32" height="4.8" fill="url(#h)"/>
<rect x="142.63" y="581.8" width="44.32" height="4.8" fill="url(#h)"/>
<rect x="186.95" y="581.8" width="44.32" height="4.8" fill="url(#h)"/>
<rect x="231.27" y="581.8" width="44.32" height="4.8" fill="url(#h)"/>
<rect x="275.58" y="579.2" width="44.32" height="10" fill="url(#h)"/>
<line x1="54" y1="584.2" x2="319.9" y2="584.2" stroke="#000" stroke-width="1.4"/>
<rect x="54" y="338.5" width="265.9" height="202.4" fill="none" stroke="#000" stroke-width="1.2"/>
<rect x="54" y="546.3" width="265.9" height="67.4" fill="none" stroke="#000" stroke-width="1.0"/>
<line x1="76.5" y1="448.58" x2="76.5" y2="452.62" stroke="#000" stroke-width="1"/>
<circle cx="76.16" cy="450.6" r="2.7"/>
<line x1="76.5" y1="581.68" x2="76.5" y2="588.32" stroke="#000" stroke-width="1"/>
<circle cx="76.16" cy="585" r="2.7"/>
<line x1="120.5" y1="436.21" x2="120.5" y2="438.99" stroke="#000" stroke-width="1"/>
<circle cx="120.47" cy="437.6" r="2.7"/>
<line x1="120.5" y1="584.44" x2="120.5" y2="588.76" stroke="#000" stroke-width="1"/>
<circle cx="120.47" cy="586.6" r="2.7"/>
<line x1="164.5" y1="440.04" x2="164.5" y2="443.16" stroke="#000" stroke-width="1"/>
<circle cx="164.79" cy="441.6" r="2.7"/>
<line x1="164.5" y1="583.08" x2="164.5" y2="588.12" stroke="#000" stroke-width="1"/>
<circle cx="164.79" cy="585.6" r="2.7"/>
<line x1="209.5" y1="440.99" x2="209.5" y2="444.21" stroke="#000" stroke-width="1"/>
<circle cx="209.11" cy="442.6" r="2.7"/>
<line x1="209.5" y1="574.71" x2="209.5" y2="581.29" stroke="#000" stroke-width="1"/>
<circle cx="209.11" cy="578" r="2.7"/>
<line x1="253.5" y1="456.06" x2="253.5" y2="461.14" stroke="#000" stroke-width="1"/>
<circle cx="253.42" cy="458.6" r="2.7"/>
<line x1="253.5" y1="578.53" x2="253.5" y2="587.47" stroke="#000" stroke-width="1"/>
<circle cx="253.42" cy="583" r="2.7"/>
<line x1="297.5" y1="472.17" x2="297.5" y2="480.63" stroke="#000" stroke-width="1"/>
<circle cx="297.74" cy="476.4" r="2.7"/>
<line x1="297.5" y1="581.27" x2="297.5" y2="593.93" stroke="#000" stroke-width="1"/>
<circle cx="297.74" cy="587.6" r="2.7"/>
<text x="51.9" y="534.4" font-size="14" text-anchor="end">1</text>
<text x="50.8" y="494.2" font-size="14" text-anchor="end">10</text>
<text x="50.4" y="454.2" font-size="14" text-anchor="end">10<tspan font-size="9.3" dy="-5.3">2</tspan></text>
<text x="50.4" y="414.4" font-size="14" text-anchor="end">10<tspan font-size="9.3" dy="-5.3">3</tspan></text>
<text x="50.4" y="374.5" font-size="14" text-anchor="end">10<tspan font-size="9.3" dy="-5.3">4</tspan></text>
<text x="47.9" y="619.1" font-size="14.5" text-anchor="end">0</text>
<text x="47.9" y="589.8" font-size="14.5" text-anchor="end">1</text>
<text x="47.9" y="560.5" font-size="14.5" text-anchor="end">2</text>
<text x="54" y="629.6" font-size="14.4" text-anchor="middle">0</text>
<text x="120.47" y="629.6" font-size="14.4" text-anchor="middle">45</text>
<text x="186.95" y="629.6" font-size="14.4" text-anchor="middle">90</text>
<text x="253.42" y="629.6" font-size="14.4" text-anchor="middle">135</text>
<text x="319.9" y="629.6" font-size="14.4" text-anchor="middle">180</text>
<text x="254.5" y="643.7" font-size="15">m</text>
<text x="265.3" y="647.4" font-size="9.6">CT</text>
<text x="320.4" y="643.7" font-size="15" text-anchor="end">[GeV]</text>
<text transform="translate(22.3 337.9) rotate(-90)" font-size="15.8" text-anchor="end" textLength="115.9" lengthAdjust="spacingAndGlyphs">Events / 30 GeV</text>
<text transform="translate(20.8 545.1) rotate(-90)" font-size="15.8" text-anchor="end" textLength="68" lengthAdjust="spacingAndGlyphs">Data / SM</text>
<text x="64" y="359.8" font-size="11.8" font-weight="bold" font-style="italic" textLength="40.2" lengthAdjust="spacingAndGlyphs">ATLAS</text>
<path d="M61.8 372.3L63.2 377.7" fill="none" stroke="#000" stroke-width="1.1"/>
<path d="M63.3 378L64.3 369.1H70.6" fill="none" stroke="#000" stroke-width="0.6"/>
<text x="65.6" y="377.1" font-size="9.9" textLength="84.6" lengthAdjust="spacingAndGlyphs">s = 13 TeV, 139 fb</text>
<text x="149.8" y="372.7" font-size="7" textLength="5.6" lengthAdjust="spacingAndGlyphs">-1</text>
<text x="77.5" y="393.7" font-size="11.2" textLength="38.6" lengthAdjust="spacingAndGlyphs">TR-HM</text>
<line x1="170.8" y1="347.7" x2="170.8" y2="355.9" stroke="#000" stroke-width="1"/>
<circle cx="170.8" cy="351.6" r="2.75"/>
<text x="179.6" y="354.6" font-size="10.2" textLength="21.5" lengthAdjust="spacingAndGlyphs">Data</text>
<rect x="164.2" y="361" width="13.2" height="10.2" fill="url(#h)"/>
<line x1="164.2" y1="366.1" x2="177.4" y2="366.1" stroke="#000" stroke-width="1.6"/>
<text x="179.6" y="369" font-size="10.2" textLength="40.8" lengthAdjust="spacingAndGlyphs">Total SM</text>
<rect x="163.7" y="375.3" width="14.1" height="11.2" fill="#99ff99"/>
<text x="179.6" y="384" font-size="10.2">tt</text>
<line x1="182.4" y1="375.3" x2="185.7" y2="375.3" stroke="#000" stroke-width="0.75"/>
<rect x="163.7" y="389.5" width="14.1" height="11.4" fill="#009900"/>
<text x="179.6" y="398" font-size="10.2" textLength="45.8" lengthAdjust="spacingAndGlyphs">Single top</text>
<rect x="231.3" y="346.7" width="16.9" height="15" fill="#3399ff"/>
<text x="250.3" y="358.3" font-size="10.2" textLength="31.6" lengthAdjust="spacingAndGlyphs">W+jets</text>
<rect x="231.3" y="366.2" width="16.9" height="15" fill="#9966cc"/>
<text x="250.3" y="377.7" font-size="10.2" textLength="68.2" lengthAdjust="spacingAndGlyphs">Di-/Multiboson</text>
<rect x="231.3" y="385.6" width="16.9" height="15" fill="#ff9900"/>
<text x="250.3" y="396.9" font-size="10.2" textLength="30.8" lengthAdjust="spacingAndGlyphs">Others</text>
</g>
<g>
<path d="M398.7 474.1H487.33V452.5H575.97V446.5H664.6V540.9H398.7Z" fill="#99ff99"/>
<path d="M398.7 480H487.33V459H575.97V454.4H664.6V540.9H398.7Z" fill="#009900"/>
<path d="M398.7 480.8H487.33V459.5H575.97V455.4H664.6V540.9H398.7Z" fill="#3399ff"/>
<path d="M398.7 540.9H487.33V510H575.97V495.4H664.6V540.9H398.7Z" fill="#9966cc"/>
<path d="M398.7 540.9H487.33V527.6H575.97V522.6H664.6V540.9H398.7Z" fill="#ff9900"/>
<rect x="398.7" y="470.1" width="88.63" height="8" fill="url(#h)"/>
<rect x="487.33" y="450" width="88.63" height="5" fill="url(#h)"/>
<rect x="575.97" y="444" width="88.63" height="5" fill="url(#h)"/>
<path d="M399 540.9V474.1H487.33V452.5H575.97V446.5H664.6V540.9" fill="none" stroke="#000" stroke-width="1.9" stroke-linejoin="miter"/>
<path d="M398.7 537.23L403.4 537.23M664.6 537.23L659.9 537.23M398.7 534.3L403.4 534.3M664.6 534.3L659.9 534.3M398.7 531.76L403.4 531.76M664.6 531.76L659.9 531.76M398.7 529.52L403.4 529.52M664.6 529.52L659.9 529.52M398.7 527.51L407.9 527.51M664.6 527.51L655.4 527.51M398.7 514.32L403.4 514.32M664.6 514.32L659.9 514.32M398.7 506.61L403.4 506.61M664.6 506.61L659.9 506.61M398.7 501.14L403.4 501.14M664.6 501.14L659.9 501.14M398.7 496.89L403.4 496.89M664.6 496.89L659.9 496.89M398.7 493.42L403.4 493.42M664.6 493.42L659.9 493.42M398.7 490.49L403.4 490.49M664.6 490.49L659.9 490.49M398.7 487.95L403.4 487.95M664.6 487.95L659.9 487.95M398.7 485.71L403.4 485.71M664.6 485.71L659.9 485.71M398.7 483.7L407.9 483.7M664.6 483.7L655.4 483.7M398.7 470.51L403.4 470.51M664.6 470.51L659.9 470.51M398.7 462.8L403.4 462.8M664.6 462.8L659.9 462.8M398.7 457.33L403.4 457.33M664.6 457.33L659.9 457.33M398.7 453.08L403.4 453.08M664.6 453.08L659.9 453.08M398.7 449.61L403.4 449.61M664.6 449.61L659.9 449.61M398.7 446.68L403.4 446.68M664.6 446.68L659.9 446.68M398.7 444.14L403.4 444.14M664.6 444.14L659.9 444.14M398.7 441.9L403.4 441.9M664.6 441.9L659.9 441.9M398.7 439.89L407.9 439.89M664.6 439.89L655.4 439.89M398.7 426.7L403.4 426.7M664.6 426.7L659.9 426.7M398.7 418.99L403.4 418.99M664.6 418.99L659.9 418.99M398.7 413.52L403.4 413.52M664.6 413.52L659.9 413.52M398.7 409.27L403.4 409.27M664.6 409.27L659.9 409.27M398.7 405.8L403.4 405.8M664.6 405.8L659.9 405.8M398.7 402.87L403.4 402.87M664.6 402.87L659.9 402.87M398.7 400.33L403.4 400.33M664.6 400.33L659.9 400.33M398.7 398.09L403.4 398.09M664.6 398.09L659.9 398.09M398.7 396.08L407.9 396.08M664.6 396.08L655.4 396.08M398.7 382.89L403.4 382.89M664.6 382.89L659.9 382.89M398.7 375.18L403.4 375.18M664.6 375.18L659.9 375.18M398.7 369.71L403.4 369.71M664.6 369.71L659.9 369.71M398.7 365.46L403.4 365.46M664.6 365.46L659.9 365.46M398.7 361.99L403.4 361.99M664.6 361.99L659.9 361.99M398.7 359.06L403.4 359.06M664.6 359.06L659.9 359.06M398.7 356.52L403.4 356.52M664.6 356.52L659.9 356.52M398.7 354.28L403.4 354.28M664.6 354.28L659.9 354.28M398.7 352.27L407.9 352.27M664.6 352.27L655.4 352.27M398.7 339.08L403.4 339.08M664.6 339.08L659.9 339.08M413.47 540.9L413.47 538.8M413.47 338.5L413.47 340.6M428.24 540.9L428.24 538.8M428.24 338.5L428.24 340.6M443.02 540.9L443.02 538.8M443.02 338.5L443.02 340.6M457.79 540.9L457.79 538.8M457.79 338.5L457.79 340.6M472.56 540.9L472.56 538.8M472.56 338.5L472.56 340.6M487.33 540.9L487.33 536.3M487.33 338.5L487.33 343.1M502.11 540.9L502.11 538.8M502.11 338.5L502.11 340.6M516.88 540.9L516.88 538.8M516.88 338.5L516.88 340.6M531.65 540.9L531.65 538.8M531.65 338.5L531.65 340.6M546.42 540.9L546.42 538.8M546.42 338.5L546.42 340.6M561.19 540.9L561.19 538.8M561.19 338.5L561.19 340.6M575.97 540.9L575.97 536.3M575.97 338.5L575.97 343.1M590.74 540.9L590.74 538.8M590.74 338.5L590.74 340.6M605.51 540.9L605.51 538.8M605.51 338.5L605.51 340.6M620.28 540.9L620.28 538.8M620.28 338.5L620.28 340.6M635.06 540.9L635.06 538.8M635.06 338.5L635.06 340.6M649.83 540.9L649.83 538.8M649.83 338.5L649.83 340.6M413.47 613.7L413.47 611.3M413.47 546.3L413.47 548.7M428.24 613.7L428.24 611.3M428.24 546.3L428.24 548.7M443.02 613.7L443.02 610.8M443.02 546.3L443.02 549.2M457.79 613.7L457.79 611.3M457.79 546.3L457.79 548.7M472.56 613.7L472.56 611.3M472.56 546.3L472.56 548.7M487.33 613.7L487.33 608.1M487.33 546.3L487.33 551.9M502.11 613.7L502.11 611.3M502.11 546.3L502.11 548.7M516.88 613.7L516.88 611.3M516.88 546.3L516.88 548.7M531.65 613.7L531.65 610.8M531.65 546.3L531.65 549.2M546.42 613.7L546.42 611.3M546.42 546.3L546.42 548.7M561.19 613.7L561.19 611.3M561.19 546.3L561.19 548.7M575.97 613.7L575.97 608.1M575.97 546.3L575.97 551.9M590.74 613.7L590.74 611.3M590.74 546.3L590.74 548.7M605.51 613.7L605.51 611.3M605.51 546.3L605.51 548.7M620.28 613.7L620.28 610.8M620.28 546.3L620.28 549.2M635.06 613.7L635.06 611.3M635.06 546.3L635.06 548.7M649.83 613.7L649.83 611.3M649.83 546.3L649.83 548.7M398.7 607.84L402.5 607.84M664.6 607.84L660.8 607.84M398.7 601.98L402.5 601.98M664.6 601.98L660.8 601.98M398.7 596.12L402.5 596.12M664.6 596.12L660.8 596.12M398.7 590.26L402.5 590.26M664.6 590.26L660.8 590.26M398.7 584.4L406 584.4M664.6 584.4L657.3 584.4M398.7 578.54L402.5 578.54M664.6 578.54L660.8 578.54M398.7 572.68L402.5 572.68M664.6 572.68L660.8 572.68M398.7 566.82L402.5 566.82M664.6 566.82L660.8 566.82M398.7 560.96L402.5 560.96M664.6 560.96L660.8 560.96M398.7 555.1L406 555.1M664.6 555.1L657.3 555.1M398.7 549.24L402.5 549.24M664.6 549.24L660.8 549.24" stroke="#000" stroke-width="0.9" fill="none"/>
<rect x="398.7" y="577.8" width="88.63" height="12.8" fill="url(#h)"/>
<rect x="487.33" y="580.2" width="88.63" height="8" fill="url(#h)"/>
<rect x="575.97" y="580.2" width="88.63" height="8" fill="url(#h)"/>
<line x1="398.7" y1="584.2" x2="664.6" y2="584.2" stroke="#000" stroke-width="1.4"/>
<rect x="398.7" y="338.5" width="265.9" height="202.4" fill="none" stroke="#000" stroke-width="1.2"/>
<rect x="398.7" y="546.3" width="265.9" height="67.4" fill="none" stroke="#000" stroke-width="1.0"/>
<line x1="443.5" y1="468.52" x2="443.5" y2="478.68" stroke="#000" stroke-width="1"/>
<circle cx="443.02" cy="473.6" r="2.7"/>
<line x1="443.5" y1="578.1" x2="443.5" y2="593.1" stroke="#000" stroke-width="1"/>
<circle cx="443.02" cy="585.6" r="2.7"/>
<line x1="531.5" y1="448.75" x2="531.5" y2="454.45" stroke="#000" stroke-width="1"/>
<circle cx="531.65" cy="451.6" r="2.7"/>
<line x1="531.5" y1="577.95" x2="531.5" y2="587.25" stroke="#000" stroke-width="1"/>
<circle cx="531.65" cy="582.6" r="2.7"/>
<line x1="620.5" y1="444.1" x2="620.5" y2="449.1" stroke="#000" stroke-width="1"/>
<circle cx="620.28" cy="446.6" r="2.7"/>
<line x1="620.5" y1="581.23" x2="620.5" y2="588.77" stroke="#000" stroke-width="1"/>
<circle cx="620.28" cy="585" r="2.7"/>
<text x="396.6" y="532.71" font-size="14" text-anchor="end">1</text>
<text x="395.5" y="488.9" font-size="14" text-anchor="end">10</text>
<text x="395.1" y="445.29" font-size="14" text-anchor="end">10<tspan font-size="9.3" dy="-5.3">2</tspan></text>
<text x="395.1" y="401.88" font-size="14" text-anchor="end">10<tspan font-size="9.3" dy="-5.3">3</tspan></text>
<text x="395.1" y="358.37" font-size="14" text-anchor="end">10<tspan font-size="9.3" dy="-5.3">4</tspan></text>
<text x="392.6" y="619.1" font-size="14.5" text-anchor="end">0</text>
<text x="392.6" y="589.8" font-size="14.5" text-anchor="end">1</text>
<text x="392.6" y="560.5" font-size="14.5" text-anchor="end">2</text>
<text x="398.7" y="629.6" font-size="14.4" text-anchor="middle">50</text>
<text x="487.33" y="629.6" font-size="14.4" text-anchor="middle">60</text>
<text x="575.97" y="629.6" font-size="14.4" text-anchor="middle">70</text>
<text x="664.6" y="629.6" font-size="14.4" text-anchor="middle">80</text>
<text x="600.9" y="643.7" font-size="15">m</text>
<text x="611.3" y="647.4" font-size="9.6">bb</text>
<text x="665.1" y="643.7" font-size="15" text-anchor="end">[GeV]</text>
<text transform="translate(367 337.9) rotate(-90)" font-size="15.8" text-anchor="end" textLength="115.9" lengthAdjust="spacingAndGlyphs">Events / 10 GeV</text>
<text transform="translate(365.5 545.1) rotate(-90)" font-size="15.8" text-anchor="end" textLength="68" lengthAdjust="spacingAndGlyphs">Data / SM</text>
<text x="408.7" y="359.8" font-size="11.8" font-weight="bold" font-style="italic" textLength="40.2" lengthAdjust="spacingAndGlyphs">ATLAS</text>
<path d="M406.5 372.3L407.9 377.7" fill="none" stroke="#000" stroke-width="1.1"/>
<path d="M408 378L409 369.1H415.3" fill="none" stroke="#000" stroke-width="0.6"/>
<text x="410.3" y="377.1" font-size="9.9" textLength="84.6" lengthAdjust="spacingAndGlyphs">s = 13 TeV, 139 fb</text>
<text x="494.5" y="372.7" font-size="7" textLength="5.6" lengthAdjust="spacingAndGlyphs">-1</text>
<text x="429.1" y="393.7" font-size="11.2" textLength="19.6" lengthAdjust="spacingAndGlyphs">WR</text>
<line x1="515.5" y1="347.7" x2="515.5" y2="355.9" stroke="#000" stroke-width="1"/>
<circle cx="515.5" cy="351.6" r="2.75"/>
<text x="524.3" y="354.6" font-size="10.2" textLength="21.5" lengthAdjust="spacingAndGlyphs">Data</text>
<rect x="508.9" y="361" width="13.2" height="10.2" fill="url(#h)"/>
<line x1="508.9" y1="366.1" x2="522.1" y2="366.1" stroke="#000" stroke-width="1.6"/>
<text x="524.3" y="369" font-size="10.2" textLength="40.8" lengthAdjust="spacingAndGlyphs">Total SM</text>
<rect x="508.4" y="375.3" width="14.1" height="11.2" fill="#99ff99"/>
<text x="524.3" y="384" font-size="10.2">tt</text>
<line x1="527.1" y1="375.3" x2="530.4" y2="375.3" stroke="#000" stroke-width="0.75"/>
<rect x="508.4" y="389.5" width="14.1" height="11.4" fill="#009900"/>
<text x="524.3" y="398" font-size="10.2" textLength="45.8" lengthAdjust="spacingAndGlyphs">Single top</text>
<rect x="576" y="346.7" width="16.9" height="15" fill="#3399ff"/>
<text x="595" y="358.3" font-size="10.2" textLength="31.6" lengthAdjust="spacingAndGlyphs">W+jets</text>
<rect x="576" y="366.2" width="16.9" height="15" fill="#9966cc"/>
<text x="595" y="377.7" font-size="10.2" textLength="68.2" lengthAdjust="spacingAndGlyphs">Di-/Multiboson</text>
<rect x="576" y="385.6" width="16.9" height="15" fill="#ff9900"/>
<text x="595" y="396.9" font-size="10.2" textLength="30.8" lengthAdjust="spacingAndGlyphs">Others</text>
</g>
<g>
<path d="M226.2 778.3H279.38V789.9H332.56V796.1H385.74V807.1H438.92V783.9H492.1V868.2H226.2Z" fill="#99ff99"/>
<path d="M226.2 787H279.38V797.4H332.56V804.2H385.74V815.6H438.92V795H492.1V868.2H226.2Z" fill="#009900"/>
<path d="M226.2 802H279.38V814.5H332.56V826.6H385.74V834H438.92V814H492.1V868.2H226.2Z" fill="#3399ff"/>
<path d="M226.2 820H279.38V831.6H332.56V842H385.74V851.4H438.92V835.6H492.1V868.2H226.2Z" fill="#9966cc"/>
<path d="M226.2 823H279.38V836.6H332.56V846H385.74V855H438.92V840H492.1V868.2H226.2Z" fill="#ff9900"/>
<rect x="226.2" y="775.7" width="53.18" height="5.2" fill="url(#h)"/>
<rect x="279.38" y="787.3" width="53.18" height="5.2" fill="url(#h)"/>
<rect x="332.56" y="793.1" width="53.18" height="6" fill="url(#h)"/>
<rect x="385.74" y="804.1" width="53.18" height="6" fill="url(#h)"/>
<rect x="438.92" y="780.7" width="53.18" height="6.4" fill="url(#h)"/>
<path d="M226.5 868.2V778.3H279.38V789.9H332.56V796.1H385.74V807.1H438.92V783.9H492.1V868.2" fill="none" stroke="#000" stroke-width="1.9" stroke-linejoin="miter"/>
<path d="M226.2 864.7L230.9 864.7M492.1 864.7L487.4 864.7M226.2 861.71L230.9 861.71M492.1 861.71L487.4 861.71M226.2 859.11L230.9 859.11M492.1 859.11L487.4 859.11M226.2 856.82L230.9 856.82M492.1 856.82L487.4 856.82M226.2 854.77L235.4 854.77M492.1 854.77L482.9 854.77M226.2 841.29L230.9 841.29M492.1 841.29L487.4 841.29M226.2 833.4L230.9 833.4M492.1 833.4L487.4 833.4M226.2 827.81L230.9 827.81M492.1 827.81L487.4 827.81M226.2 823.47L230.9 823.47M492.1 823.47L487.4 823.47M226.2 819.92L230.9 819.92M492.1 819.92L487.4 819.92M226.2 816.93L230.9 816.93M492.1 816.93L487.4 816.93M226.2 814.33L230.9 814.33M492.1 814.33L487.4 814.33M226.2 812.04L230.9 812.04M492.1 812.04L487.4 812.04M226.2 809.99L235.4 809.99M492.1 809.99L482.9 809.99M226.2 796.51L230.9 796.51M492.1 796.51L487.4 796.51M226.2 788.62L230.9 788.62M492.1 788.62L487.4 788.62M226.2 783.03L230.9 783.03M492.1 783.03L487.4 783.03M226.2 778.69L230.9 778.69M492.1 778.69L487.4 778.69M226.2 775.14L230.9 775.14M492.1 775.14L487.4 775.14M226.2 772.15L230.9 772.15M492.1 772.15L487.4 772.15M226.2 769.55L230.9 769.55M492.1 769.55L487.4 769.55M226.2 767.26L230.9 767.26M492.1 767.26L487.4 767.26M226.2 765.21L235.4 765.21M492.1 765.21L482.9 765.21M226.2 751.73L230.9 751.73M492.1 751.73L487.4 751.73M226.2 743.84L230.9 743.84M492.1 743.84L487.4 743.84M226.2 738.25L230.9 738.25M492.1 738.25L487.4 738.25M226.2 733.91L230.9 733.91M492.1 733.91L487.4 733.91M226.2 730.36L230.9 730.36M492.1 730.36L487.4 730.36M226.2 727.37L230.9 727.37M492.1 727.37L487.4 727.37M226.2 724.77L230.9 724.77M492.1 724.77L487.4 724.77M226.2 722.48L230.9 722.48M492.1 722.48L487.4 722.48M226.2 720.43L235.4 720.43M492.1 720.43L482.9 720.43M226.2 706.95L230.9 706.95M492.1 706.95L487.4 706.95M226.2 699.06L230.9 699.06M492.1 699.06L487.4 699.06M226.2 693.47L230.9 693.47M492.1 693.47L487.4 693.47M226.2 689.13L230.9 689.13M492.1 689.13L487.4 689.13M226.2 685.58L230.9 685.58M492.1 685.58L487.4 685.58M226.2 682.59L230.9 682.59M492.1 682.59L487.4 682.59M226.2 679.99L230.9 679.99M492.1 679.99L487.4 679.99M226.2 677.7L230.9 677.7M492.1 677.7L487.4 677.7M226.2 675.65L235.4 675.65M492.1 675.65L482.9 675.65M228.86 868.2L228.86 862.8M228.86 665.8L228.86 671.2M234.18 868.2L234.18 866.1M234.18 665.8L234.18 667.9M239.49 868.2L239.49 866.1M239.49 665.8L239.49 667.9M244.81 868.2L244.81 866.1M244.81 665.8L244.81 667.9M250.13 868.2L250.13 866.1M250.13 665.8L250.13 667.9M255.45 868.2L255.45 863.6M255.45 665.8L255.45 670.4M260.77 868.2L260.77 866.1M260.77 665.8L260.77 667.9M266.08 868.2L266.08 866.1M266.08 665.8L266.08 667.9M271.4 868.2L271.4 866.1M271.4 665.8L271.4 667.9M276.72 868.2L276.72 866.1M276.72 665.8L276.72 667.9M282.04 868.2L282.04 863.6M282.04 665.8L282.04 670.4M287.36 868.2L287.36 866.1M287.36 665.8L287.36 667.9M292.67 868.2L292.67 866.1M292.67 665.8L292.67 667.9M297.99 868.2L297.99 866.1M297.99 665.8L297.99 667.9M303.31 868.2L303.31 866.1M303.31 665.8L303.31 667.9M308.63 868.2L308.63 862.8M308.63 665.8L308.63 671.2M313.95 868.2L313.95 866.1M313.95 665.8L313.95 667.9M319.26 868.2L319.26 866.1M319.26 665.8L319.26 667.9M324.58 868.2L324.58 866.1M324.58 665.8L324.58 667.9M329.9 868.2L329.9 866.1M329.9 665.8L329.9 667.9M335.22 868.2L335.22 863.6M335.22 665.8L335.22 670.4M340.54 868.2L340.54 866.1M340.54 665.8L340.54 667.9M345.85 868.2L345.85 866.1M345.85 665.8L345.85 667.9M351.17 868.2L351.17 866.1M351.17 665.8L351.17 667.9M356.49 868.2L356.49 866.1M356.49 665.8L356.49 667.9M361.81 868.2L361.81 863.6M361.81 665.8L361.81 670.4M367.13 868.2L367.13 866.1M367.13 665.8L367.13 667.9M372.44 868.2L372.44 866.1M372.44 665.8L372.44 667.9M377.76 868.2L377.76 866.1M377.76 665.8L377.76 667.9M383.08 868.2L383.08 866.1M383.08 665.8L383.08 667.9M388.4 868.2L388.4 862.8M388.4 665.8L388.4 671.2M393.72 868.2L393.72 866.1M393.72 665.8L393.72 667.9M399.03 868.2L399.03 866.1M399.03 665.8L399.03 667.9M404.35 868.2L404.35 866.1M404.35 665.8L404.35 667.9M409.67 868.2L409.67 866.1M409.67 665.8L409.67 667.9M414.99 868.2L414.99 863.6M414.99 665.8L414.99 670.4M420.31 868.2L420.31 866.1M420.31 665.8L420.31 667.9M425.62 868.2L425.62 866.1M425.62 665.8L425.62 667.9M430.94 868.2L430.94 866.1M430.94 665.8L430.94 667.9M436.26 868.2L436.26 866.1M436.26 665.8L436.26 667.9M441.58 868.2L441.58 863.6M441.58 665.8L441.58 670.4M446.9 868.2L446.9 866.1M446.9 665.8L446.9 667.9M452.21 868.2L452.21 866.1M452.21 665.8L452.21 667.9M457.53 868.2L457.53 866.1M457.53 665.8L457.53 667.9M462.85 868.2L462.85 866.1M462.85 665.8L462.85 667.9M468.17 868.2L468.17 862.8M468.17 665.8L468.17 671.2M473.49 868.2L473.49 866.1M473.49 665.8L473.49 667.9M478.8 868.2L478.8 866.1M478.8 665.8L478.8 667.9M484.12 868.2L484.12 866.1M484.12 665.8L484.12 667.9M489.44 868.2L489.44 866.1M489.44 665.8L489.44 667.9M237.28 941L237.28 938.6M237.28 873.6L237.28 876M248.36 941L248.36 938.6M248.36 873.6L248.36 876M259.44 941L259.44 938.1M259.44 873.6L259.44 876.5M270.52 941L270.52 938.6M270.52 873.6L270.52 876M281.6 941L281.6 938.6M281.6 873.6L281.6 876M292.67 941L292.67 935.4M292.67 873.6L292.67 879.2M303.75 941L303.75 938.6M303.75 873.6L303.75 876M314.83 941L314.83 938.6M314.83 873.6L314.83 876M325.91 941L325.91 938.1M325.91 873.6L325.91 876.5M336.99 941L336.99 938.6M336.99 873.6L336.99 876M348.07 941L348.07 938.6M348.07 873.6L348.07 876M359.15 941L359.15 935.4M359.15 873.6L359.15 879.2M370.23 941L370.23 938.6M370.23 873.6L370.23 876M381.31 941L381.31 938.6M381.31 873.6L381.31 876M392.39 941L392.39 938.1M392.39 873.6L392.39 876.5M403.47 941L403.47 938.6M403.47 873.6L403.47 876M414.55 941L414.55 938.6M414.55 873.6L414.55 876M425.62 941L425.62 935.4M425.62 873.6L425.62 879.2M436.7 941L436.7 938.6M436.7 873.6L436.7 876M447.78 941L447.78 938.6M447.78 873.6L447.78 876M458.86 941L458.86 938.1M458.86 873.6L458.86 876.5M469.94 941L469.94 938.6M469.94 873.6L469.94 876M481.02 941L481.02 938.6M481.02 873.6L481.02 876M226.2 935.14L230 935.14M492.1 935.14L488.3 935.14M226.2 929.28L230 929.28M492.1 929.28L488.3 929.28M226.2 923.42L230 923.42M492.1 923.42L488.3 923.42M226.2 917.56L230 917.56M492.1 917.56L488.3 917.56M226.2 911.7L233.5 911.7M492.1 911.7L484.8 911.7M226.2 905.84L230 905.84M492.1 905.84L488.3 905.84M226.2 899.98L230 899.98M492.1 899.98L488.3 899.98M226.2 894.12L230 894.12M492.1 894.12L488.3 894.12M226.2 888.26L230 888.26M492.1 888.26L488.3 888.26M226.2 882.4L233.5 882.4M492.1 882.4L484.8 882.4M226.2 876.54L230 876.54M492.1 876.54L488.3 876.54" stroke="#000" stroke-width="0.9" fill="none"/>
<rect x="226.2" y="906.9" width="53.18" height="9.2" fill="url(#h)"/>
<rect x="279.38" y="906.9" width="53.18" height="9.2" fill="url(#h)"/>
<rect x="332.56" y="906.5" width="53.18" height="10" fill="url(#h)"/>
<rect x="385.74" y="906.5" width="53.18" height="10" fill="url(#h)"/>
<rect x="438.92" y="906.5" width="53.18" height="10" fill="url(#h)"/>
<line x1="226.2" y1="911.5" x2="492.1" y2="911.5" stroke="#000" stroke-width="1.4"/>
<rect x="226.2" y="665.8" width="265.9" height="202.4" fill="none" stroke="#000" stroke-width="1.2"/>
<rect x="226.2" y="873.6" width="265.9" height="67.4" fill="none" stroke="#000" stroke-width="1.0"/>
<line x1="252.5" y1="773.64" x2="252.5" y2="779.36" stroke="#000" stroke-width="1"/>
<circle cx="252.79" cy="776.5" r="2.7"/>
<line x1="252.5" y1="904.75" x2="252.5" y2="914.05" stroke="#000" stroke-width="1"/>
<circle cx="252.79" cy="909.4" r="2.7"/>
<line x1="305.5" y1="782.8" x2="305.5" y2="790.2" stroke="#000" stroke-width="1"/>
<circle cx="305.97" cy="786.5" r="2.7"/>
<line x1="305.5" y1="901.25" x2="305.5" y2="913.95" stroke="#000" stroke-width="1"/>
<circle cx="305.97" cy="907.6" r="2.7"/>
<line x1="359.5" y1="791.1" x2="359.5" y2="800.5" stroke="#000" stroke-width="1"/>
<circle cx="359.15" cy="795.8" r="2.7"/>
<line x1="359.5" y1="905.49" x2="359.5" y2="919.31" stroke="#000" stroke-width="1"/>
<circle cx="359.15" cy="912.4" r="2.7"/>
<line x1="412.5" y1="802.07" x2="412.5" y2="815.13" stroke="#000" stroke-width="1"/>
<circle cx="412.33" cy="808.6" r="2.7"/>
<line x1="412.5" y1="905.74" x2="412.5" y2="923.46" stroke="#000" stroke-width="1"/>
<circle cx="412.33" cy="914.6" r="2.7"/>
<line x1="465.5" y1="783.25" x2="465.5" y2="790.75" stroke="#000" stroke-width="1"/>
<circle cx="465.51" cy="787" r="2.7"/>
<line x1="465.5" y1="911.9" x2="465.5" y2="921.3" stroke="#000" stroke-width="1"/>
<circle cx="465.51" cy="916.6" r="2.7"/>
<text x="224.1" y="859.97" font-size="14" text-anchor="end">1</text>
<text x="223" y="815.19" font-size="14" text-anchor="end">10</text>
<text x="222.6" y="770.61" font-size="14" text-anchor="end">10<tspan font-size="9.3" dy="-5.3">2</tspan></text>
<text x="222.6" y="726.23" font-size="14" text-anchor="end">10<tspan font-size="9.3" dy="-5.3">3</tspan></text>
<text x="222.6" y="681.75" font-size="14" text-anchor="end">10<tspan font-size="9.3" dy="-5.3">4</tspan></text>
<text x="220.1" y="946.4" font-size="14.5" text-anchor="end">0</text>
<text x="220.1" y="917.1" font-size="14.5" text-anchor="end">1</text>
<text x="220.1" y="887.8" font-size="14.5" text-anchor="end">2</text>
<text x="226.2" y="956.9" font-size="14.4" text-anchor="middle">195</text>
<text x="292.67" y="956.9" font-size="14.4" text-anchor="middle">320</text>
<text x="359.15" y="956.9" font-size="14.4" text-anchor="middle">445</text>
<text x="425.62" y="956.9" font-size="14.4" text-anchor="middle">570</text>
<text x="492.1" y="956.9" font-size="14.4" text-anchor="middle">695</text>
<text x="428.4" y="971" font-size="15">m</text>
<text x="438.8" y="974.7" font-size="9.6">bb</text>
<text x="492.6" y="971" font-size="15" text-anchor="end">[GeV]</text>
<text transform="translate(194.5 665.2) rotate(-90)" font-size="15.8" text-anchor="end" textLength="123.6" lengthAdjust="spacingAndGlyphs">Events / 100 GeV</text>
<text transform="translate(193 872.4) rotate(-90)" font-size="15.8" text-anchor="end" textLength="68" lengthAdjust="spacingAndGlyphs">Data / SM</text>
<text x="236.2" y="687.1" font-size="11.8" font-weight="bold" font-style="italic" textLength="40.2" lengthAdjust="spacingAndGlyphs">ATLAS</text>
<path d="M234 699.6L235.4 705" fill="none" stroke="#000" stroke-width="1.1"/>
<path d="M235.5 705.3L236.5 696.4H242.8" fill="none" stroke="#000" stroke-width="0.6"/>
<text x="237.8" y="704.4" font-size="9.9" textLength="84.6" lengthAdjust="spacingAndGlyphs">s = 13 TeV, 139 fb</text>
<text x="322" y="700" font-size="7" textLength="5.6" lengthAdjust="spacingAndGlyphs">-1</text>
<text x="255.8" y="721" font-size="11.2" textLength="24.4" lengthAdjust="spacingAndGlyphs">STR</text>
<line x1="343" y1="675" x2="343" y2="683.2" stroke="#000" stroke-width="1"/>
<circle cx="343" cy="678.9" r="2.75"/>
<text x="351.8" y="681.9" font-size="10.2" textLength="21.5" lengthAdjust="spacingAndGlyphs">Data</text>
<rect x="336.4" y="688.3" width="13.2" height="10.2" fill="url(#h)"/>
<line x1="336.4" y1="693.4" x2="349.6" y2="693.4" stroke="#000" stroke-width="1.6"/>
<text x="351.8" y="696.3" font-size="10.2" textLength="40.8" lengthAdjust="spacingAndGlyphs">Total SM</text>
<rect x="335.9" y="702.6" width="14.1" height="11.2" fill="#99ff99"/>
<text x="351.8" y="711.3" font-size="10.2">tt</text>
<line x1="354.6" y1="702.6" x2="357.9" y2="702.6" stroke="#000" stroke-width="0.75"/>
<rect x="335.9" y="716.8" width="14.1" height="11.4" fill="#009900"/>
<text x="351.8" y="725.3" font-size="10.2" textLength="45.8" lengthAdjust="spacingAndGlyphs">Single top</text>
<rect x="403.5" y="674" width="16.9" height="15" fill="#3399ff"/>
<text x="422.5" y="685.6" font-size="10.2" textLength="31.6" lengthAdjust="spacingAndGlyphs">W+jets</text>
<rect x="403.5" y="693.5" width="16.9" height="15" fill="#9966cc"/>
<text x="422.5" y="705" font-size="10.2" textLength="68.2" lengthAdjust="spacingAndGlyphs">Di-/Multiboson</text>
<rect x="403.5" y="712.9" width="16.9" height="15" fill="#ff9900"/>
<text x="422.5" y="724.2" font-size="10.2" textLength="30.8" lengthAdjust="spacingAndGlyphs">Others</text>
</g>
</svg>
</body></html>
